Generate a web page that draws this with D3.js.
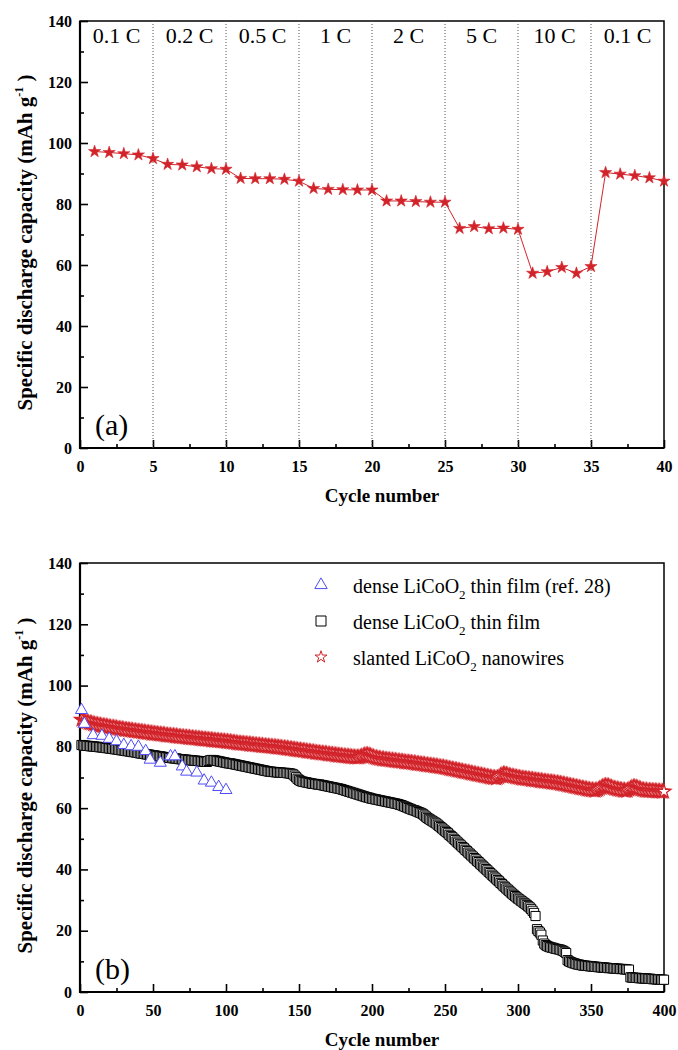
<!DOCTYPE html>
<html>
<head>
<meta charset="utf-8">
<script src="https://cdn.jsdelivr.net/npm/d3@7"></script>
<style>
  body { margin: 0; background: #fff; }
  svg text { font-family: "Liberation Serif", "Times New Roman", serif; }
</style>
</head>
<body>
<div id="chart"></div>
<script>
// Two stacked panels: (a) rate capability, (b) long term cycling

const width = 678;
const height = 1050;
const red = "#d2232a";
const blue = "#4f4cf5";
const serif = "'Liberation Serif', 'Times New Roman', serif";

// ---- panel (a) data ----
const rateCycles = d3.range(1, 41);
const rateCapacity = [
  97.2, 96.9, 96.5, 96.1, 94.9, 93.0, 92.8, 92.2, 91.6, 91.4,
  88.4, 88.3, 88.3, 88.1, 87.5, 85.1, 84.8, 84.7, 84.6, 84.6,
  81.0, 81.0, 80.8, 80.6, 80.6, 72.0, 72.6, 71.9, 72.1, 71.7,
  57.3, 57.8, 59.2, 57.3, 59.5, 90.3, 89.8, 89.3, 88.6, 87.5
];
const rateLabels = ["0.1 C", "0.2 C", "0.5 C", "1 C", "2 C", "5 C", "10 C", "0.1 C"];
const rateBounds = [0, 5, 10, 15, 20, 25, 30, 35, 40];

// ---- panel (b) data ----
const refCycles = [1, 3, 9, 15, 20, 25, 30, 35, 40, 45, 48, 55, 62, 65, 70, 73, 80, 85, 90, 95, 100];
const refCapacity = [92.0, 87.5, 83.8, 83.6, 82.6, 81.8, 80.6, 80.2, 80.0, 78.6, 75.8, 74.8, 76.9, 76.9, 73.6, 71.9, 71.6, 69.0, 68.3, 66.9, 65.9];

const longCycles = d3.range(1, 401);
const filmCapacity = [
  80.6, 80.5, 80.4, 80.4, 80.3, 80.3, 80.2, 80.2, 80.1, 80.1,
  80.0, 80.0, 79.9, 79.9, 79.8, 79.8, 79.7, 79.6, 79.6, 79.5,
  79.4, 79.4, 79.3, 79.2, 79.2, 79.1, 79.0, 78.9, 78.9, 78.8,
  78.7, 78.6, 78.6, 78.5, 78.4, 78.3, 78.3, 78.2, 78.1, 78.0,
  77.9, 77.8, 77.8, 77.7, 77.6, 77.5, 77.5, 77.4, 77.3, 77.2,
  77.2, 77.1, 77.0, 76.9, 76.9, 76.8, 76.7, 76.6, 76.6, 76.5,
  76.4, 76.4, 76.3, 76.3, 76.2, 76.2, 76.1, 76.0, 76.0, 75.9,
  75.9, 75.8, 75.8, 75.7, 75.7, 75.6, 75.6, 75.5, 75.5, 75.4,
  75.4, 75.3, 75.3, 75.2, 75.2, 75.1, 75.1, 75.4, 75.6, 75.7,
  75.7, 75.6, 75.5, 75.4, 75.3, 75.2, 75.1, 75.0, 74.9, 74.8,
  74.7, 74.6, 74.6, 74.5, 74.4, 74.3, 74.2, 74.1, 74.0, 73.9,
  73.8, 73.7, 73.6, 73.5, 73.4, 73.3, 73.2, 73.1, 73.0, 72.9,
  72.8, 72.7, 72.6, 72.5, 72.4, 72.3, 72.2, 72.1, 72.0, 71.9,
  71.9, 71.8, 71.8, 71.7, 71.7, 71.6, 71.6, 71.6, 71.5, 71.5,
  71.5, 71.4, 71.4, 71.3, 71.2, 71.0, 70.6, 70.1, 69.6, 69.2,
  68.9, 68.7, 68.6, 68.5, 68.4, 68.3, 68.2, 68.1, 68.0, 67.9,
  67.9, 67.8, 67.7, 67.7, 67.6, 67.5, 67.4, 67.3, 67.2, 67.1,
  67.0, 66.9, 66.8, 66.7, 66.6, 66.5, 66.4, 66.3, 66.2, 66.0,
  65.9, 65.7, 65.6, 65.4, 65.3, 65.1, 65.0, 64.8, 64.7, 64.5,
  64.4, 64.2, 64.1, 63.9, 63.8, 63.6, 63.5, 63.4, 63.2, 63.1,
  63.0, 62.9, 62.8, 62.7, 62.6, 62.5, 62.4, 62.3, 62.2, 62.1,
  62.0, 61.9, 61.8, 61.7, 61.6, 61.5, 61.4, 61.3, 61.1, 61.0,
  60.8, 60.6, 60.4, 60.2, 60.0, 59.8, 59.6, 59.4, 59.3, 59.1,
  58.9, 58.7, 58.5, 58.3, 58.0, 57.6, 57.2, 56.8, 56.5, 56.2,
  55.9, 55.6, 55.3, 55.0, 54.6, 54.2, 53.8, 53.4, 53.0, 52.6,
  52.2, 51.8, 51.3, 50.9, 50.5, 50.0, 49.6, 49.1, 48.7, 48.2,
  47.8, 47.3, 46.9, 46.4, 46.0, 45.5, 45.1, 44.6, 44.2, 43.7,
  43.3, 42.8, 42.4, 41.9, 41.5, 41.0, 40.6, 40.1, 39.7, 39.2,
  38.8, 38.3, 37.9, 37.4, 37.0, 36.5, 36.1, 35.6, 35.2, 34.7,
  34.3, 33.8, 33.4, 33.0, 32.5, 32.1, 31.7, 31.3, 30.9, 30.5,
  30.2, 29.8, 29.5, 29.1, 28.8, 28.4, 28.0, 27.6, 27.1, 26.5,
  25.8, 24.8, 20.5, 19.9, 19.4, 18.7, 16.8, 15.8, 15.3, 15.0,
  14.8, 14.6, 14.5, 14.4, 14.2, 14.1, 14.0, 13.9, 13.8, 13.6,
  13.4, 13.1, 12.7, 10.4, 10.0, 9.8, 9.6, 9.4, 9.3, 9.1,
  9.0, 8.9, 8.8, 8.7, 8.6, 8.6, 8.5, 8.5, 8.4, 8.4,
  8.3, 8.3, 8.2, 8.2, 8.1, 8.1, 8.0, 8.0, 8.0, 7.9,
  7.9, 7.8, 7.8, 7.8, 7.7, 7.7, 7.6, 7.6, 7.6, 7.5,
  7.5, 7.5, 7.4, 7.4, 7.3, 7.3, 4.8, 4.7, 4.7, 4.6,
  4.6, 4.6, 4.5, 4.5, 4.5, 4.4, 4.4, 4.4, 4.3, 4.3,
  4.3, 4.2, 4.2, 4.2, 4.1, 4.1, 4.1, 4.0, 4.0, 4.0
];
const wireCapacity = [
  88.9, 88.6, 88.4, 88.2, 88.1, 87.9, 87.8, 87.7, 87.5, 87.4,
  87.3, 87.2, 87.1, 87.0, 86.9, 86.8, 86.8, 86.7, 86.6, 86.5,
  86.4, 86.3, 86.3, 86.2, 86.1, 86.0, 85.9, 85.9, 85.8, 85.7,
  85.6, 85.6, 85.5, 85.4, 85.4, 85.3, 85.2, 85.2, 85.1, 85.0,
  85.0, 84.9, 84.8, 84.8, 84.7, 84.6, 84.6, 84.5, 84.4, 84.4,
  84.3, 84.3, 84.2, 84.1, 84.1, 84.0, 84.0, 83.9, 83.8, 83.8,
  83.7, 83.7, 83.6, 83.6, 83.5, 83.5, 83.4, 83.3, 83.3, 83.2,
  83.2, 83.1, 83.1, 83.0, 83.0, 82.9, 82.9, 82.8, 82.8, 82.7,
  82.7, 82.6, 82.6, 82.5, 82.5, 82.4, 82.4, 82.3, 82.3, 82.2,
  82.2, 82.1, 82.1, 82.0, 82.0, 81.9, 81.9, 81.8, 81.8, 81.7,
  81.7, 81.6, 81.6, 81.5, 81.4, 81.4, 81.3, 81.2, 81.2, 81.1,
  81.1, 81.0, 81.0, 80.9, 80.9, 80.8, 80.8, 80.7, 80.7, 80.6,
  80.6, 80.5, 80.5, 80.4, 80.4, 80.3, 80.3, 80.2, 80.2, 80.1,
  80.1, 80.0, 80.0, 79.9, 79.9, 79.8, 79.8, 79.7, 79.6, 79.6,
  79.5, 79.5, 79.4, 79.3, 79.3, 79.2, 79.1, 79.1, 79.0, 78.9,
  78.9, 78.8, 78.7, 78.7, 78.6, 78.5, 78.5, 78.4, 78.3, 78.3,
  78.2, 78.1, 78.1, 78.0, 77.9, 77.9, 77.8, 77.8, 77.7, 77.6,
  77.6, 77.5, 77.5, 77.4, 77.3, 77.3, 77.2, 77.2, 77.1, 77.0,
  77.0, 76.9, 76.9, 76.8, 76.8, 76.7, 76.7, 76.6, 76.6, 76.6,
  76.6, 76.7, 76.9, 77.1, 77.3, 77.4, 77.4, 77.3, 77.1, 76.9,
  76.7, 76.5, 76.4, 76.3, 76.2, 76.1, 76.0, 76.0, 75.9, 75.8,
  75.8, 75.7, 75.6, 75.6, 75.5, 75.5, 75.4, 75.3, 75.3, 75.2,
  75.2, 75.1, 75.0, 75.0, 74.9, 74.9, 74.8, 74.7, 74.7, 74.6,
  74.5, 74.5, 74.4, 74.3, 74.3, 74.2, 74.1, 74.1, 74.0, 73.9,
  73.9, 73.8, 73.7, 73.7, 73.6, 73.5, 73.4, 73.4, 73.3, 73.2,
  73.1, 73.0, 72.9, 72.8, 72.7, 72.6, 72.5, 72.4, 72.3, 72.2,
  72.1, 72.0, 71.9, 71.8, 71.7, 71.6, 71.5, 71.4, 71.3, 71.2,
  71.1, 71.0, 70.9, 70.8, 70.7, 70.6, 70.5, 70.4, 70.3, 70.2,
  70.1, 70.0, 69.9, 69.9, 69.8, 69.9, 70.2, 70.6, 70.9, 71.1,
  71.1, 71.0, 70.8, 70.6, 70.5, 70.4, 70.3, 70.2, 70.1, 70.0,
  69.9, 69.8, 69.7, 69.7, 69.6, 69.5, 69.5, 69.4, 69.3, 69.3,
  69.2, 69.1, 69.1, 69.0, 68.9, 68.9, 68.8, 68.7, 68.7, 68.6,
  68.5, 68.5, 68.4, 68.4, 68.3, 68.2, 68.2, 68.1, 68.0, 67.9,
  67.8, 67.7, 67.6, 67.5, 67.4, 67.3, 67.2, 67.1, 67.0, 66.9,
  66.8, 66.7, 66.6, 66.5, 66.4, 66.3, 66.2, 66.1, 66.0, 65.9,
  65.9, 65.8, 65.8, 65.9, 66.1, 66.4, 66.7, 67.0, 67.2, 67.3,
  67.3, 67.2, 67.0, 66.8, 66.6, 66.4, 66.3, 66.2, 66.1, 66.0,
  65.9, 65.8, 65.8, 65.7, 65.8, 66.1, 66.4, 66.7, 66.9, 66.9,
  66.8, 66.6, 66.4, 66.2, 66.0, 65.9, 65.8, 65.8, 65.7, 65.7,
  65.7, 65.6, 65.6, 65.6, 65.5, 65.5, 65.5, 65.4, 65.4, 65.4
];
const legendLabels = [
  ["dense LiCoO", "2", " thin film (ref. 28)"],
  ["dense LiCoO", "2", " thin film"],
  ["slanted LiCoO", "2", " nanowires"]
];

const yMajor = [0, 20, 40, 60, 80, 100, 120, 140];
const yMinor = [10, 30, 50, 70, 90, 110, 130];

const svg = d3.select("#chart")
  .append("svg")
  .attr("width", width)
  .attr("height", height);

// draws frame, ticks, labels and titles for one panel, returns the scales
function drawPanel(box, xMax, xMajor, xMinor, tag) {
  const x = d3.scaleLinear().domain([0, xMax]).range([box.left, box.right]);
  const y = d3.scaleLinear().domain([0, 140]).range([box.bottom, box.top]);
  const g = svg.append("g");

  const styleAxis = sel => {
    sel.select(".domain").remove();
    sel.attr("font-family", serif).attr("font-size", 16).attr("font-weight", "bold");
    sel.selectAll("text").style("font-family", serif);
    sel.selectAll("line").attr("stroke", "#000").attr("stroke-width", 1.6);
  };

  g.append("g")
    .attr("transform", `translate(0,${box.bottom})`)
    .call(d3.axisBottom(x).tickValues(xMajor).tickSizeInner(-8).tickSizeOuter(0).tickPadding(13))
    .call(styleAxis);
  g.append("g")
    .attr("transform", `translate(0,${box.bottom})`)
    .call(d3.axisBottom(x).tickValues(xMinor).tickSizeInner(-4).tickSizeOuter(0).tickFormat(""))
    .call(styleAxis);
  g.append("g")
    .attr("transform", `translate(${box.left},0)`)
    .call(d3.axisLeft(y).tickValues(yMajor).tickSizeInner(-8).tickSizeOuter(0).tickPadding(8))
    .call(styleAxis);
  g.append("g")
    .attr("transform", `translate(${box.left},0)`)
    .call(d3.axisLeft(y).tickValues(yMinor).tickSizeInner(-4).tickSizeOuter(0).tickFormat(""))
    .call(styleAxis);

  // frame
  g.append("rect")
    .attr("x", box.left).attr("y", box.top)
    .attr("width", box.right - box.left).attr("height", box.bottom - box.top)
    .attr("fill", "none").attr("stroke", "#000").attr("stroke-width", 1.5);
  g.append("path")
    .attr("d", `M${box.left},${box.top}V${box.bottom}H${box.right}`)
    .attr("fill", "none").attr("stroke", "#000").attr("stroke-width", 2.2);

  // axis titles
  g.append("text")
    .attr("x", (box.left + box.right) / 2 + 10)
    .attr("y", box.bottom + 54)
    .attr("text-anchor", "middle")
    .attr("font-size", 19).attr("font-weight", "bold")
    .text("Cycle number");

  const yt = g.append("text")
    .attr("transform", `translate(32,${(box.top + box.bottom) / 2 + 8}) rotate(-90)`)
    .attr("text-anchor", "middle")
    .attr("font-size", 21).attr("font-weight", "bold");
  yt.append("tspan").text("Specific discharge capacity (mAh g");
  yt.append("tspan").attr("font-size", 12).attr("dy", -9).text("-1");
  yt.append("tspan").attr("dy", 9).text(" )");

  // panel tag
  g.append("text")
    .attr("x", box.left + 15)
    .attr("y", box.bottom - 13)
    .attr("font-size", 30)
    .text(tag);

  return { x, y };
}

// ---------------- panel (a) ----------------
const boxA = { left: 80, right: 664, top: 21, bottom: 448 };
const a = drawPanel(boxA, 40, d3.range(0, 41, 5), d3.range(2.5, 40, 5), "(a)");

svg.append("g")
  .selectAll("line")
  .data(rateBounds.slice(1, -1))
  .join("line")
    .attr("x1", d => a.x(d)).attr("x2", d => a.x(d))
    .attr("y1", boxA.top).attr("y2", boxA.bottom)
    .attr("stroke", "#555").attr("stroke-width", 1)
    .attr("stroke-dasharray", "1,2");

svg.append("g")
  .selectAll("text")
  .data(rateLabels)
  .join("text")
    .attr("x", (d, i) => a.x((rateBounds[i] + rateBounds[i + 1]) / 2))
    .attr("y", boxA.top + 22)
    .attr("text-anchor", "middle")
    .attr("font-size", 22)
    .text(d => d);

const rateData = rateCycles.map((c, i) => ({ c, v: rateCapacity[i] }));

svg.append("path")
  .datum(rateData)
  .attr("fill", "none")
  .attr("stroke", red)
  .attr("stroke-width", 1)
  .attr("d", d3.line().x(d => a.x(d.c)).y(d => a.y(d.v)));

const starFilled = d3.symbol().type(d3.symbolStar).size(46)();
svg.append("g")
  .selectAll("path")
  .data(rateData)
  .join("path")
    .attr("d", starFilled)
    .attr("transform", d => `translate(${a.x(d.c)},${a.y(d.v)})`)
    .attr("fill", red)
    .attr("stroke", red)
    .attr("stroke-width", 0.6);

// ---------------- panel (b) ----------------
const boxB = { left: 80, right: 664, top: 563, bottom: 992 };
const b = drawPanel(boxB, 400, d3.range(0, 401, 50), d3.range(25, 400, 50), "(b)");

const square = d3.symbol().type(d3.symbolSquare).size(84)();
const star = d3.symbol().type(d3.symbolStar).size(58)();
const triangle = d3.symbol().type(d3.symbolTriangle).size(62)();

const series = [
  { name: "film", cycles: longCycles, values: filmCapacity, shape: square, color: "#000", sw: 1 },
  { name: "wire", cycles: longCycles, values: wireCapacity, shape: star, color: red, sw: 1.3 },
  { name: "ref", cycles: refCycles, values: refCapacity, shape: triangle, color: blue, sw: 1 }
];

series.forEach(s => {
  svg.append("g")
    .selectAll("path")
    .data(s.cycles.map((c, i) => ({ c, v: s.values[i] })))
    .join("path")
      .attr("d", s.shape)
      .attr("transform", d => `translate(${b.x(d.c)},${b.y(d.v)})`)
      .attr("fill", "#fff")
      .attr("stroke", s.color)
      .attr("stroke-width", s.sw);
});

// legend
const legendShapes = [
  { shape: d3.symbol().type(d3.symbolTriangle).size(66)(), color: blue },
  { shape: d3.symbol().type(d3.symbolSquare).size(100)(), color: "#000" },
  { shape: d3.symbol().type(d3.symbolStar).size(44)(), color: red }
];
const legend = svg.append("g").attr("transform", "translate(321,585)");
legendLabels.forEach((parts, i) => {
  const row = legend.append("g").attr("transform", `translate(0,${i * 36})`);
  row.append("path")
    .attr("d", legendShapes[i].shape)
    .attr("fill", "#fff")
    .attr("stroke", legendShapes[i].color)
    .attr("stroke-width", 1);
  const t = row.append("text").attr("x", 32).attr("y", 8).attr("font-size", 20);
  t.append("tspan").text(parts[0]);
  t.append("tspan").attr("font-size", 13).attr("dy", 6).text(parts[1]);
  t.append("tspan").attr("dy", -6).text(parts[2]);
});
</script>
</body>
</html>
